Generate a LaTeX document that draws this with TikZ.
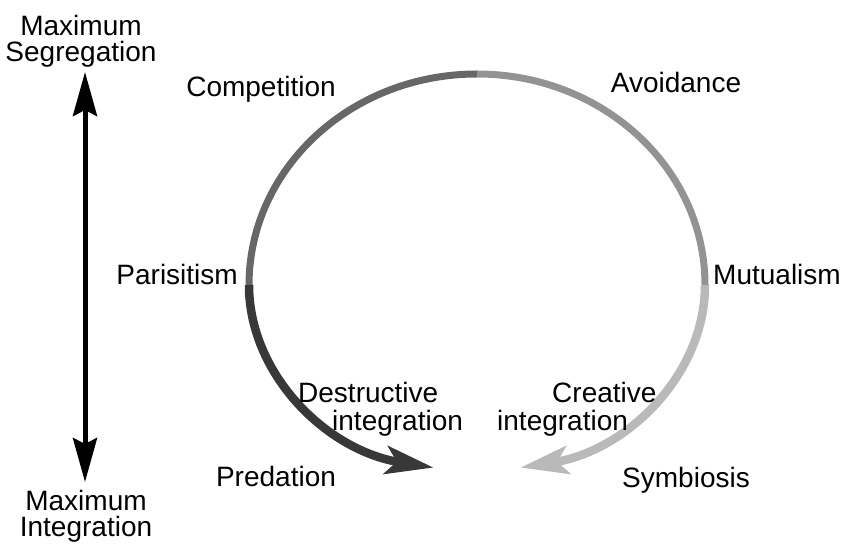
\documentclass[tikz,border=0pt]{standalone}
\usepackage{fontspec}
\setmainfont{Liberation Sans}
\definecolor{compgray}{HTML}{676767}
\definecolor{avoidgray}{HTML}{939393}
\definecolor{predgray}{HTML}{383838}
\definecolor{symbgray}{HTML}{B9B9B9}
\usetikzlibrary{arrows.meta, calc, positioning}

\begin{document}
\begin{tikzpicture}[x=1pt, y=1pt, every node/.style={font=\fontsize{28}{26}\selectfont, inner sep=0pt}]
	\pgfmathsetmacro{\ringx}{477}
	\pgfmathsetmacro{\ringy}{263}
	\pgfmathsetmacro{\rx}{228}
	\pgfmathsetmacro{\rtop}{211}
	\pgfmathsetmacro{\rbot}{186}
	\useasboundingbox (0,0) rectangle (842,548);
	% Axis
	\node[align=center, anchor=north] (maxseg) at (81,533) {Maximum\\Segregation};
	\node[align=center, anchor=north] (maxint) at (86,58) {Maximum\\Integration};
	\coordinate (segtip) at (85,476);
	\coordinate (inttip) at (85,66);
	\draw[line width=5pt, {Stealth[length=44pt,width=24pt,inset=6pt]}-{Stealth[length=44pt,width=24pt,inset=6pt]}] (segtip) -- (inttip);
	
	% Ring
	\coordinate (top) at (\ringx,\ringy+\rtop);
	\coordinate (left) at (\ringx-\rx,\ringy);
	\coordinate (right) at (\ringx+\rx,\ringy);
	\draw[compgray, line width=7pt] (top) arc[start angle=90, end angle=180, x radius=\rx, y radius=\rtop];
	\draw[avoidgray, line width=7pt] (top) arc[start angle=90, end angle=0, x radius=\rx, y radius=\rtop];
	\draw[predgray, line width=8.5pt, -{Stealth[length=48pt,width=28pt,inset=11pt]}] (left) arc[start angle=180, end angle=259, x radius=\rx, y radius=\rbot];
	\draw[symbgray, line width=8.5pt, -{Stealth[length=48pt,width=28pt,inset=11pt]}] (right) arc[start angle=0, end angle=-79, x radius=\rx, y radius=\rbot];
	
	% Labels
	\node[anchor=base] (comp) at (261,451) {Competition};
	\node[anchor=base] (avoid) at (676,455) {Avoidance};
	\node[anchor=base east] (paras) at (238,263) {Parisitism};
	\node[anchor=base west] (mutual) at (713,263) {Mutualism};
	\node[anchor=base] (pred) at (276,61) {Predation};
	\node[anchor=base] (symb) at (686,60) {Symbiosis};
	\node[align=left, anchor=north west] (destr) at (298,166) {Destructive\\[2pt]\hspace*{34pt}integration};
	\node[align=left, anchor=north west] (creat) at (497,166) {\hspace*{55pt}Creative\\[2pt]integration};
	
\end{tikzpicture}
\end{document}
